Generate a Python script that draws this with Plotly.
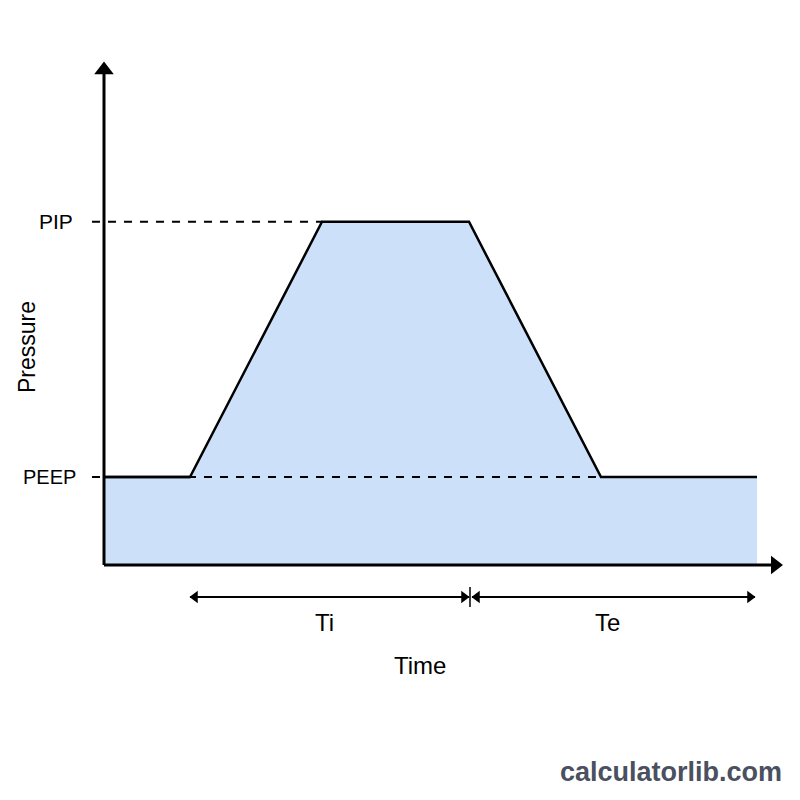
import plotly.graph_objects as go

# Data (arbitrary time units / pressure units)
time_pts = [0, 1.72, 4.36, 7.3, 9.94, 13.06]
pressure_pts = [5, 5, 19.5, 19.5, 5, 5]
PEEP = 5
PIP = 19.5
ti_range = [1.72, 7.3]
te_range = [7.36, 13.02]
level_labels = ["PIP", "PEEP"]
level_values = [PIP, PEEP]

# pixel mapping helpers: 50 px per time unit, 17.6 px per pressure unit
XPX = 50.0
YPX = 17.6
x0_px, y0_px = 104, 565
xr = [-x0_px / XPX, (800 - x0_px) / XPX]
yr = [-(800 - y0_px) / YPX, y0_px / YPX]

fig = go.Figure()

# filled waveform
fig.add_trace(go.Scatter(x=time_pts, y=pressure_pts, mode="lines", fill="tozeroy",
                         fillcolor="#cce1f9", line=dict(color="black", width=2.5),
                         hoverinfo="skip"))

# dashed level lines
fig.add_trace(go.Scatter(x=[-0.24, time_pts[2]], y=[PIP, PIP], mode="lines",
                         line=dict(color="black", width=2, dash="8px,8px")))
fig.add_trace(go.Scatter(x=[-0.24, time_pts[4]], y=[PEEP, PEEP], mode="lines",
                         line=dict(color="black", width=2, dash="8px,8px")))
# redraw solid baseline segments on top
fig.add_trace(go.Scatter(x=time_pts[:2], y=pressure_pts[:2], mode="lines",
                         line=dict(color="black", width=2.5)))

# axes lines
y_top = (y0_px - 72) / YPX
x_right = (772 - x0_px) / XPX
fig.add_trace(go.Scatter(x=[0, 0], y=[0, y_top], mode="lines", line=dict(color="black", width=3)))
fig.add_trace(go.Scatter(x=[0, x_right], y=[0, 0], mode="lines", line=dict(color="black", width=3)))
fig.add_trace(go.Scatter(x=[0], y=[(y0_px - 70) / YPX], mode="markers",
                         marker=dict(symbol="triangle-up", size=17, color="black")))
fig.add_trace(go.Scatter(x=[(775 - x0_px) / XPX], y=[0], mode="markers",
                         marker=dict(symbol="triangle-right", size=16, color="black")))

# Ti / Te arrows
ya = (y0_px - 597) / YPX
for rng in (ti_range, te_range):
    fig.add_trace(go.Scatter(x=rng, y=[ya, ya], mode="lines", line=dict(color="black", width=2)))
    fig.add_trace(go.Scatter(x=[rng[0] + 0.1], y=[ya], mode="markers",
                             marker=dict(symbol="triangle-left", size=11, color="black")))
    fig.add_trace(go.Scatter(x=[rng[1] - 0.1], y=[ya], mode="markers",
                             marker=dict(symbol="triangle-right", size=11, color="black")))
sep_x = (470 - x0_px) / XPX
fig.add_trace(go.Scatter(x=[sep_x, sep_x], y=[(y0_px - 587) / YPX, (y0_px - 607) / YPX],
                         mode="lines", line=dict(color="black", width=1.5)))

font = "Liberation Sans, Arial, sans-serif"
ann = []
label_right_px = [75, 78]
label_sizes = [21, 20]
for lab, v, rp, fs in zip(level_labels, level_values, label_right_px, label_sizes):
    ann.append(dict(x=(rp - x0_px) / XPX, y=v, text=lab, showarrow=False, xanchor="right",
                    font=dict(size=fs, color="black", family=font)))
ann.append(dict(x=(324 - x0_px) / XPX, y=(y0_px - 622) / YPX, text="Ti", showarrow=False,
                font=dict(size=24, color="black", family=font)))
ann.append(dict(x=(607 - x0_px) / XPX, y=(y0_px - 622) / YPX, text="Te", showarrow=False,
                font=dict(size=24, color="black", family=font)))
ann.append(dict(x=(420 - x0_px) / XPX, y=(y0_px - 665) / YPX, text="Time", showarrow=False,
                font=dict(size=24, color="black", family=font)))
ann.append(dict(x=(27 - x0_px) / XPX, y=(y0_px - 347) / YPX, text="Pressure", showarrow=False,
                textangle=-90, font=dict(size=23, color="black", family=font)))
ann.append(dict(x=(671 - x0_px) / XPX, y=(y0_px - 772) / YPX, text="<b>calculatorlib.com</b>",
                showarrow=False, font=dict(size=27, color="#4a5060", family=font)))

fig.update_layout(width=800, height=800, margin=dict(l=0, r=0, t=0, b=0),
                  paper_bgcolor="white", plot_bgcolor="white", showlegend=False,
                  xaxis=dict(range=xr, visible=False, fixedrange=True),
                  yaxis=dict(range=yr, visible=False, fixedrange=True),
                  annotations=ann)
fig.write_html("out.html")
